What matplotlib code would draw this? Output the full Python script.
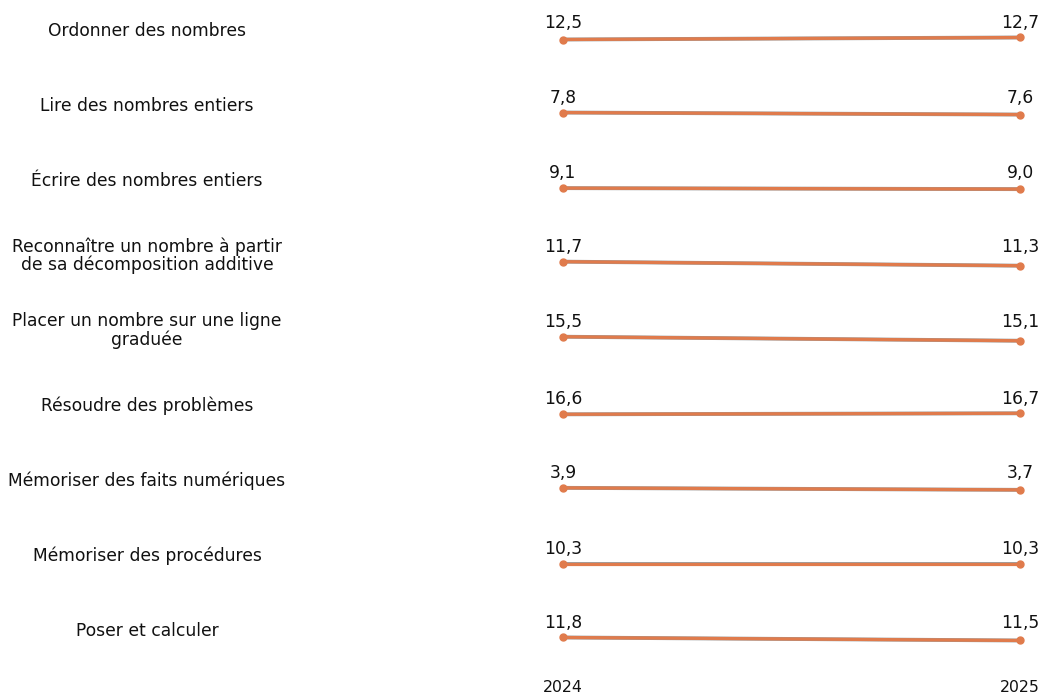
import numpy as np
import matplotlib
matplotlib.use("Agg")
from matplotlib import pyplot as plt
from matplotlib import transforms

skills = [
    "Ordonner des nombres",
    "Lire des nombres entiers",
    "Écrire des nombres entiers",
    "Reconnaître un nombre à partir\nde sa décomposition additive",
    "Placer un nombre sur une ligne\ngraduée",
    "Résoudre des problèmes",
    "Mémoriser des faits numériques",
    "Mémoriser des procédures",
    "Poser et calculer",
]
years = ["2024", "2025"]
val_2024 = [12.5, 7.8, 9.1, 11.7, 15.5, 16.6, 3.9, 10.3, 11.8]
val_2025 = [12.7, 7.6, 9.0, 11.3, 15.1, 16.7, 3.7, 10.3, 11.5]

orange = "#E07B4C"
grey = "#9A9A9A"

W, H = 1043, 697
fig = plt.figure(figsize=(W / 100, H / 100), dpi=100)

row_h = 75.06
first_y = 38.5
x0_px, x1_px = 563, 1020
ax_left, ax_right = 540, 1040
px_per_unit = x1_px - x0_px
xlim = (-(x0_px - ax_left) / px_per_unit, 1 + (ax_right - x1_px) / px_per_unit)

def fmt(v):
    return f"{v:.1f}".replace(".", ",")

axes = []
for i, name in enumerate(skills):
    top = first_y + row_h * i - row_h / 2
    ax = fig.add_axes([ax_left / W, 1 - (top + row_h) / H,
                       (ax_right - ax_left) / W, row_h / H])
    vals = [val_2024[i], val_2025[i]]
    mid = np.mean(vals)
    ax.set_ylim(mid - 3.75, mid + 3.75)
    ax.set_xlim(*xlim)
    xs = [0, 1]
    ax.plot(xs, vals, color=grey, lw=2.8, solid_capstyle="round", zorder=1)
    ax.plot(xs, vals, color=orange, lw=2.3, marker="o", markersize=5,
            solid_capstyle="round", zorder=2, clip_on=False)
    top_v = max(vals)
    for x, v in zip(xs, vals):
        ax.annotate(fmt(v), (x, top_v), xytext=(0, 7), textcoords="offset points",
                    ha="center", va="baseline", fontsize=12.3, color="#111111")
    trans = transforms.blended_transform_factory(fig.transFigure, ax.transAxes)
    ax.text(147 / W, 0.5 + 8 / row_h, name, transform=trans, ha="center",
            va="center", fontsize=12.3, color="#111111", linespacing=1.0)
    for s in ax.spines.values():
        s.set_visible(False)
    ax.set_yticks([])
    ax.set_xticks([])
    axes.append(ax)

last = axes[-1]
last.set_xticks([0, 1])
last.set_xticklabels(years, fontsize=11.3, color="#111111")
last.tick_params(axis="x", length=0, pad=2.5)

fig.savefig("out.png", dpi=100)
